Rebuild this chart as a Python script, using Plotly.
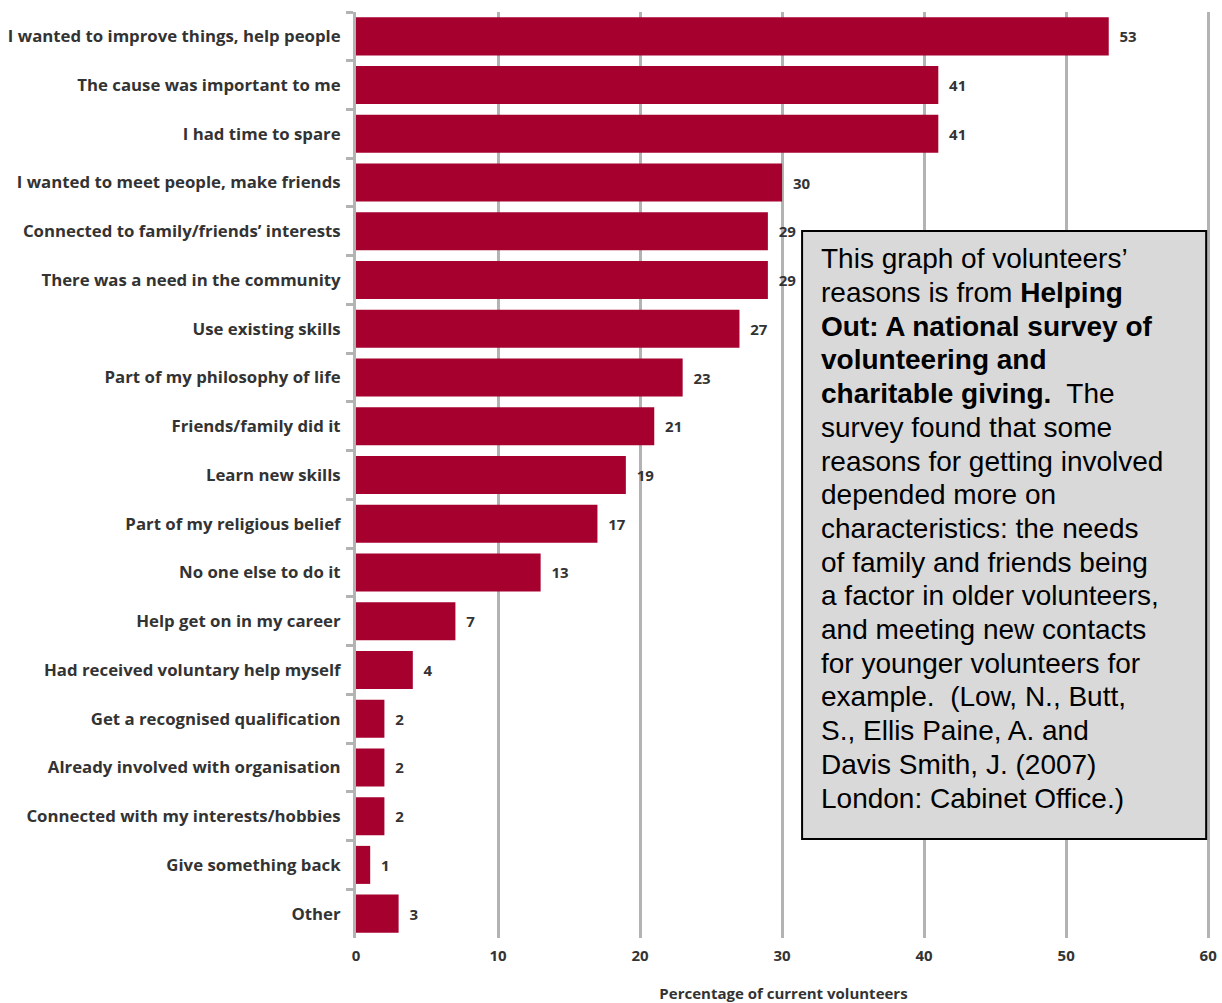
import plotly.graph_objects as go

categories = [
    "I wanted to improve things, help people",
    "The cause was important to me",
    "I had time to spare",
    "I wanted to meet people, make friends",
    "Connected to family/friends’ interests",
    "There was a need in the community",
    "Use existing skills",
    "Part of my philosophy of life",
    "Friends/family did it",
    "Learn new skills",
    "Part of my religious belief",
    "No one else to do it",
    "Help get on in my career",
    "Had received voluntary help myself",
    "Get a recognised qualification",
    "Already involved with organisation",
    "Connected with my interests/hobbies",
    "Give something back",
    "Other",
]
values = [53, 41, 41, 30, 29, 29, 27, 23, 21, 19, 17, 13, 7, 4, 2, 2, 2, 1, 3]
x_ticks = [0, 10, 20, 30, 40, 50, 60]
x_title = "Percentage of current volunteers"

note_lines = [
    "This graph of volunteers’",
    "reasons is from <b>Helping</b>",
    "<b>Out: A national survey of</b>",
    "<b>volunteering and</b>",
    "<b>charitable giving.</b>  The",
    "survey found that some",
    "reasons for getting involved",
    "depended more on",
    "characteristics: the needs",
    "of family and friends being",
    "a factor in older volunteers,",
    "and meeting new contacts",
    "for younger volunteers for",
    "example.  (Low, N., Butt,",
    "S., Ellis Paine, A. and",
    "Davis Smith, J. (2007)",
    "London: Cabinet Office.)",
]

W, H = 1222, 1003
X_MAX = 60.2  # a little past 60 so the 60 gridline is drawn
# plot area in page pixels (value 0 at 356, value 60 at 1208)
PX0, PY0, PY1 = 356, 12, 938
PX1 = PX0 + (1208 - PX0) * X_MAX / 60
L = PX0
R = W - PX1
T = PY0
B = H - PY1


def px(xp):
    return (xp - PX0) / (PX1 - PX0)


def py(yp):
    return (PY1 - yp) / (PY1 - PY0)


LABEL_FONT = "'Open Sans', sans-serif"
BAR_COLOR = "#a6002f"
GRID = "#b3b3b3"
TXT = "#333333"

fig = go.Figure(
    go.Bar(
        x=values,
        y=categories,
        orientation="h",
        marker=dict(color=BAR_COLOR, line=dict(width=0)),
        texttemplate="\u00a0\u00a0%{x}",
        textposition="outside",
        textfont=dict(family=LABEL_FONT, size=15, color=TXT, weight="bold"),
        cliponaxis=False,
        width=0.78,
    )
)

fig.update_layout(
    width=W,
    height=H,
    margin=dict(l=L, r=R, t=T, b=B, pad=0, autoexpand=False),
    plot_bgcolor="white",
    paper_bgcolor="white",
    showlegend=False,
    font=dict(family=LABEL_FONT, color=TXT),
)

fig.update_xaxes(
    range=[0, X_MAX],
    tickvals=x_ticks,
    showgrid=True,
    gridcolor=GRID,
    gridwidth=3,
    zeroline=False,
    showline=False,
    ticks="",
    ticklabelstandoff=7,
    ticklabeloverflow="allow",
    tickfont=dict(family=LABEL_FONT, size=15, color=TXT, weight="bold"),
    title=dict(
        text=x_title,
        font=dict(family=LABEL_FONT, size=15, color=TXT, weight="bold"),
        standoff=30,
    ),
)

fig.update_yaxes(
    autorange="reversed",
    showgrid=False,
    showline=True,
    linecolor=GRID,
    linewidth=3,
    ticks="outside",
    tickson="boundaries",
    ticklen=7,
    tickwidth=3,
    tickcolor=GRID,
    tickfont=dict(family=LABEL_FONT, size=16.8, color=TXT, weight="bold"),
    ticklabelstandoff=9,
)

# note box
fig.add_shape(
    type="rect",
    xref="paper",
    yref="paper",
    x0=px(802),
    x1=px(1206),
    y0=py(839),
    y1=py(231),
    fillcolor="#d9d9d9",
    line=dict(color="#000000", width=2),
    layer="above",
)

base0 = 268.8
step = 33.7
for i, line in enumerate(note_lines):
    baseline = base0 + i * step
    fig.add_annotation(
        xref="paper",
        yref="paper",
        x=px(819),
        y=py(baseline - 10),
        xanchor="left",
        yanchor="middle",
        text=line,
        showarrow=False,
        align="left",
        font=dict(family="'Liberation Sans', Arial, sans-serif", size=28, color="#000000"),
    )

fig.write_html(
    "out.html",
    config={"displayModeBar": False},
    post_script=(
        "document.body.style.margin='0';"
        "document.body.style.overflow='hidden';"
        "document.documentElement.style.overflow='hidden';"
    ),
)
